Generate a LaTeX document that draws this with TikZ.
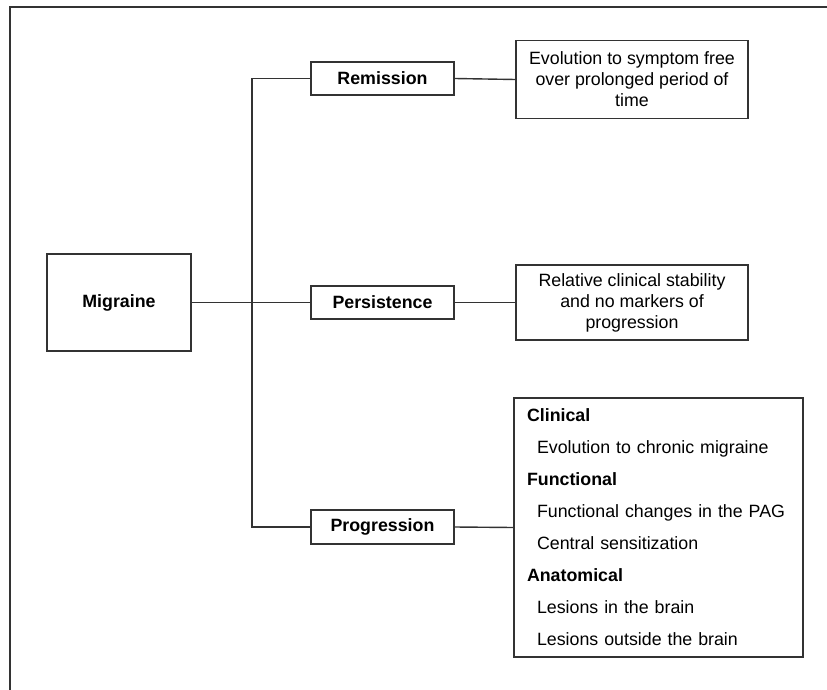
\documentclass[tikz,border=0pt]{standalone}
\usepackage{fontspec}
\setmainfont{Liberation Sans}
\usepackage{tikz}
\usetikzlibrary{shapes,positioning}

\begin{document}
\begin{tikzpicture}[x=1pt,y=-1pt]
\tikzstyle{line}=[draw=black!80, line width=1.4pt]
\tikzstyle{box}=[rectangle, line, font=\fontsize{17.8}{21}\selectfont, inner sep=0pt]

\useasboundingbox (0,0) rectangle (827,690);
\draw[line] (10,690) -- (10,7) -- (827,7);

\node[box, minimum width = 144, minimum height = 97] (mig) at (119,302.5) {\textbf{Migraine}};

\node[box, minimum width = 143, minimum height = 33] (rem) at (382.5,78.5) {\textbf{Remission}};
\node[box, minimum width = 143, minimum height = 33] (per) at (382.5,302.5) {\textbf{Persistence}};
\node[box, minimum width = 143, minimum height = 34] (pro) at (382.5,527) {\textbf{Progression}};

\node[box, minimum width = 232, minimum height = 78, align=center] (remr) at (632,79.5)
    {Evolution to symptom free\\over prolonged period of\\time};
\node[box, minimum width = 232, minimum height = 75, align=center] (perr) at (632,302.5)
    {Relative clinical stability\\and no markers of\\progression};
\node[box, minimum width = 289, minimum height = 259, text width = 263, align=left,
    font=\fontsize{17.8}{32}\selectfont] (pror) at (658.5,527.5)
    {\textbf{Clinical}\\
     \hspace*{10pt}Evolution to chronic migraine\\
     \textbf{Functional}\\
     \hspace*{10pt}Functional changes in the PAG\\
     \hspace*{10pt}Central sensitization\\
     \textbf{Anatomical}\\
     \hspace*{10pt}Lesions in the brain\\
     \hspace*{10pt}Lesions outside the brain};

\coordinate (tt) at (252,78.5);
\coordinate (tb) at (252,527);

\draw[line] (rem.west) -- (tt) -- (tb) -- (pro.west);
\draw[line] (mig.east) -- (per.west);
\draw[line] (rem.east) -- (remr.west);
\draw[line] (per.east) -- (perr.west);
\draw[line] (pro.east) -- (pror.west);
\end{tikzpicture}
\end{document}
